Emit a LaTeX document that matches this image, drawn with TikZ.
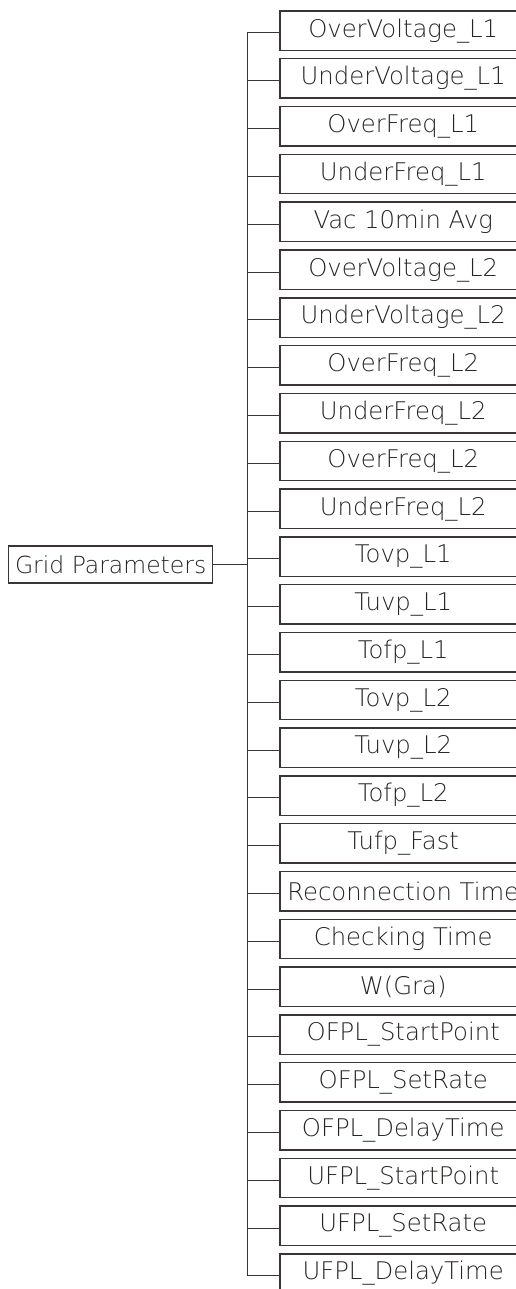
\documentclass[tikz,border=0pt]{standalone}
\usepackage{fontspec}
\setmainfont{DejaVu Sans ExtraLight}
\definecolor{gpLine}{RGB}{58,52,50}
\definecolor{gpText}{RGB}{38,35,33}
\tikzset{
  parbox/.style={text=gpText,anchor=north west,
    minimum width=246pt,minimum height=39pt,inner sep=0pt,font=\fontsize{24.3}{26}\selectfont},
  rootbox/.style={draw=gpLine,line width=1.3pt,text=gpText,anchor=west,
    minimum width=204pt,minimum height=37pt,inner sep=0pt,font=\fontsize{23.5}{26}\selectfont},
  boxedge/.style={draw=gpLine,line width=1.4pt},
  wire/.style={draw=gpLine,line width=1pt}
}

\begin{document}
\begin{tikzpicture}[x=1pt,y=-1pt]
\useasboundingbox (0,0) rectangle (516,1289);
\node[rootbox] (root) at (8,564.5) {Grid Parameters};
\foreach \lbl [count=\i from 0] in {OverVoltage\_L1,UnderVoltage\_L1,OverFreq\_L1,UnderFreq\_L1,Vac 10min Avg,
  OverVoltage\_L2,UnderVoltage\_L2,OverFreq\_L2,UnderFreq\_L2,OverFreq\_L2,UnderFreq\_L2,
  Tovp\_L1,Tuvp\_L1,Tofp\_L1,Tovp\_L2,Tuvp\_L2,Tofp\_L2,Tufp\_Fast,Reconnection Time,Checking Time,
  W(Gra),OFPL\_StartPoint,OFPL\_SetRate,OFPL\_DelayTime,UFPL\_StartPoint,UFPL\_SetRate,UFPL\_DelayTime}{
  \node[parbox] (par\i) at (280,{11+47.8*\i}) {\lbl};
  \draw[boxedge] ([xshift=30pt]par\i.north east) -- (par\i.north west) -- (par\i.south west) -- ([xshift=30pt]par\i.south east);
  \draw[gpLine,line width=2.6pt] (par\i.north west) -- (par\i.south west);
  \coordinate (br\i) at (247,{33+47.8*\i});
  \draw[wire] (br\i) -- (br\i -| par\i.west);
}
% trunk and root link
\draw[wire] (br0) -- (br26);
\draw[wire] (root.east) -- (root.east -| br0);
\end{tikzpicture}
\end{document}
